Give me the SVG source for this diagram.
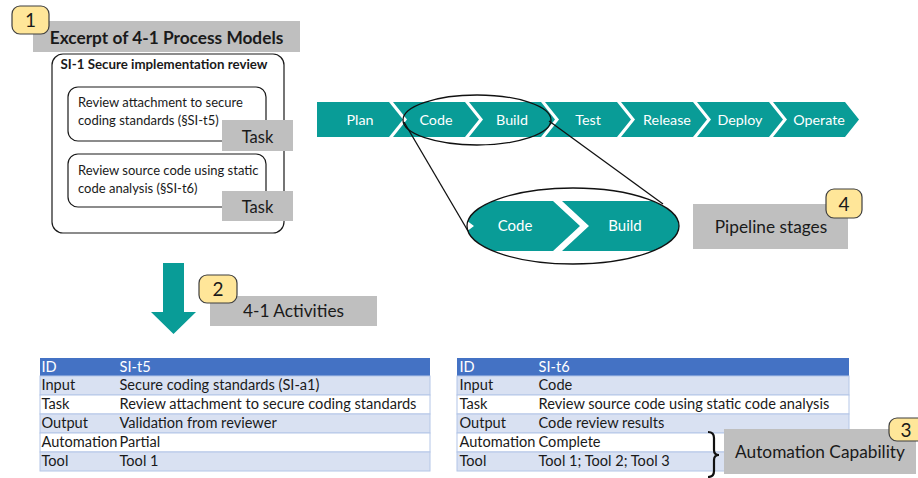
<svg xmlns="http://www.w3.org/2000/svg" width="918" height="478" viewBox="0 0 918 478">
<style>
text{font-family:Lato,"Open Sans","Liberation Sans",sans-serif;fill:#1a1a1a}
.gray{fill:#bfbfbf}
.badge{fill:#ffe699;stroke:#3f3f3f;stroke-width:1.2}
.bt{font-size:19px;text-anchor:middle}
.box{fill:#fff;stroke:#1a1a1a;stroke-width:1.2}
.teal{fill:#099c97}
.ct{fill:#fff;font-size:14.3px;text-anchor:middle}
.td{font-size:14.6px}
.th{font-size:14.6px;fill:#fff}
.hdr{fill:#4472c4}
.rl{fill:#d9e1f2;stroke:#b4c6e7;stroke-width:1}
.rw{fill:#fff;stroke:#b4c6e7;stroke-width:1}
.ln{fill:none;stroke:#111;stroke-width:1.3}
.lbl{font-size:17.3px;text-anchor:middle}
.bx{font-size:13px}
</style>
<defs>
<clipPath id="ec"><ellipse cx="573" cy="226" rx="106" ry="38"/></clipPath>
</defs>

<g id="process-models">
<rect class="gray" x="33" y="21" width="267" height="31"/>
<text x="166.5" y="44" style="font-size:17.3px;font-weight:bold" text-anchor="middle">Excerpt of 4-1 Process Models</text>
<rect class="badge" x="12" y="6" width="37" height="28" rx="8"/>
<text class="bt" x="30.5" y="27">1</text>
<rect class="box" x="52" y="54" width="232" height="179" rx="11"/>
<text x="164" y="69" style="font-size:13.3px;font-weight:bold" text-anchor="middle">SI-1 Secure implementation review</text>
</g>

<g id="task-t5">
<rect class="box" x="68" y="87" width="198" height="54" rx="10"/>
<text class="bx" x="78" y="107">Review attachment to secure</text>
<text class="bx" x="78" y="125">coding standards (§SI-t5)</text>
<rect class="gray" x="222" y="120" width="71" height="31"/>
<text x="257.5" y="143" style="font-size:16.5px" text-anchor="middle">Task</text>
</g>

<g id="task-t6">
<rect class="box" x="68" y="154" width="198" height="53" rx="10"/>
<text class="bx" x="78" y="175">Review source code using static</text>
<text class="bx" x="78" y="193">code analysis (§SI-t6)</text>
<rect class="gray" x="222" y="191" width="71" height="30"/>
<text x="257.5" y="213" style="font-size:16.5px" text-anchor="middle">Task</text>
</g>

<g id="pipeline">
<polygon class="teal" points="317,102 389,102 403,119.5 389,137 317,137"/>
<polygon class="teal" points="393,102 465,102 479,119.5 465,137 393,137 407,119.5"/>
<polygon class="teal" points="469,102 541,102 555,119.5 541,137 469,137 483,119.5"/>
<polygon class="teal" points="545,102 617,102 631,119.5 617,137 545,137 559,119.5"/>
<polygon class="teal" points="621,102 693,102 707,119.5 693,137 621,137 635,119.5"/>
<polygon class="teal" points="697,102 769,102 783,119.5 769,137 697,137 711,119.5"/>
<polygon class="teal" points="773,102 845,102 859,119.5 845,137 773,137 787,119.5"/>
<text class="ct" x="360" y="124.5">Plan</text>
<text class="ct" x="436" y="124.5">Code</text>
<text class="ct" x="512" y="124.5">Build</text>
<text class="ct" x="588" y="124.5">Test</text>
<text class="ct" x="667" y="124.5">Release</text>
<text class="ct" x="740" y="124.5">Deploy</text>
<text class="ct" x="819" y="124.5">Operate</text>
</g>

<g id="zoom-detail">
<g clip-path="url(#ec)">
<polygon class="teal" points="440,201 553,201 580,226 553,251 440,251 474,226"/>
<polygon class="teal" points="562,201 700,201 700,251 562,251 589,226"/>
</g>
<text class="ct" x="515" y="231" style="font-size:15px">Code</text>
<text class="ct" x="625" y="231" style="font-size:15px">Build</text>
<ellipse class="ln" cx="573" cy="226" rx="106" ry="38"/>
</g>

<g id="pipeline-stages">
<rect class="gray" x="693" y="204" width="155" height="45"/>
<text class="lbl" x="771" y="233">Pipeline stages</text>
<rect class="badge" x="826" y="189" width="36" height="29" rx="8"/>
<text class="bt" x="844" y="211">4</text>
</g>

<g id="down-arrow">
<polygon class="teal" points="163,263 184,263 184,312 196,312 173.5,334 151,312 163,312"/>
</g>

<g id="activities">
<rect class="gray" x="210" y="296" width="167" height="30"/>
<text class="lbl" x="293.5" y="317">4-1 Activities</text>
<rect class="badge" x="199" y="275" width="38" height="28" rx="8"/>
<text class="bt" x="218" y="296">2</text>
</g>

<g id="table-t5">
<rect class="hdr" x="40" y="358" width="390" height="18"/>
<rect class="rl" x="40" y="376" width="390" height="19"/>
<rect class="rw" x="40" y="395" width="390" height="19"/>
<rect class="rl" x="40" y="414" width="390" height="19"/>
<rect class="rw" x="40" y="433" width="390" height="19"/>
<rect class="rl" x="40" y="452" width="390" height="19"/>
<text class="th" x="41.5" y="372">ID</text>
<text class="th" x="119.5" y="372">SI-t5</text>
<text class="td" x="41.5" y="390">Input</text>
<text class="td" x="119.5" y="390">Secure coding standards (SI-a1)</text>
<text class="td" x="41.5" y="409">Task</text>
<text class="td" x="119.5" y="409">Review attachment to secure coding standards</text>
<text class="td" x="41.5" y="428">Output</text>
<text class="td" x="119.5" y="428">Validation from reviewer</text>
<text class="td" x="41.5" y="447">Automation</text>
<text class="td" x="119.5" y="447">Partial</text>
<text class="td" x="41.5" y="466">Tool</text>
<text class="td" x="119.5" y="466">Tool 1</text>
</g>

<g id="table-t6">
<rect class="hdr" x="457" y="358" width="392" height="18"/>
<rect class="rl" x="457" y="376" width="392" height="19"/>
<rect class="rw" x="457" y="395" width="392" height="19"/>
<rect class="rl" x="457" y="414" width="392" height="19"/>
<rect class="rw" x="457" y="433" width="392" height="19"/>
<rect class="rl" x="457" y="452" width="392" height="19"/>
<text class="th" x="459.5" y="372">ID</text>
<text class="th" x="538.5" y="372">SI-t6</text>
<text class="td" x="459.5" y="390">Input</text>
<text class="td" x="538.5" y="390">Code</text>
<text class="td" x="459.5" y="409">Task</text>
<text class="td" x="538.5" y="409">Review source code using static code analysis</text>
<text class="td" x="459.5" y="428">Output</text>
<text class="td" x="538.5" y="428">Code review results</text>
<text class="td" x="459.5" y="447">Automation</text>
<text class="td" x="538.5" y="447">Complete</text>
<text class="td" x="459.5" y="466">Tool</text>
<text class="td" x="538.5" y="466">Tool 1; Tool 2; Tool 3</text>
</g>

<g id="connectors">
<ellipse class="ln" cx="477" cy="120" rx="74" ry="25"/>
<line class="ln" x1="404" y1="122" x2="468" y2="231"/>
<line class="ln" x1="549" y1="121" x2="663" y2="204"/>
<path class="ln" d="M708,432 Q714,432 714,438 L714,450 Q714,455 719,455 Q714,455 714,460 L714,471 Q714,477 708,477" style="stroke-width:2.2"/>
</g>

<g id="automation-capability">
<rect class="gray" x="724" y="429" width="192" height="45"/>
<text class="lbl" x="820" y="458">Automation Capability</text>
<rect class="badge" x="889" y="418" width="40" height="23" rx="8"/>
<text class="bt" x="906" y="437">3</text>
</g>
</svg>
